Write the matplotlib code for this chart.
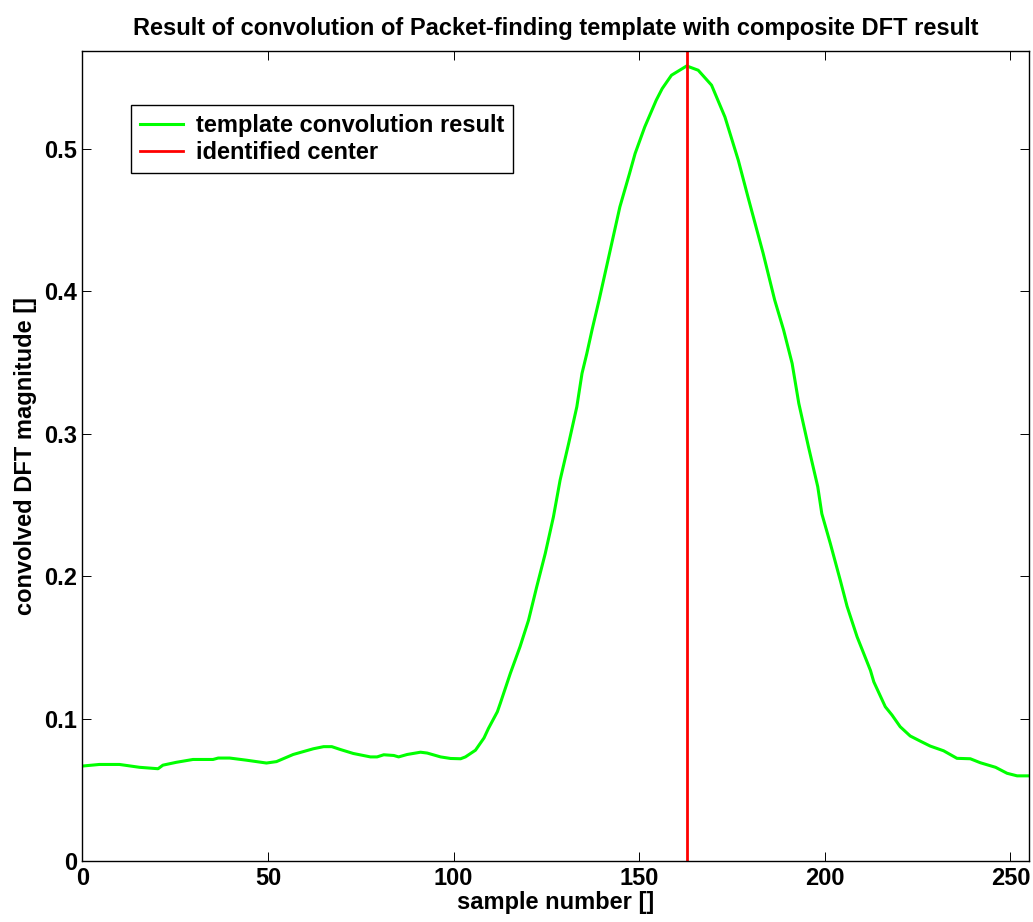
import numpy as np
import matplotlib
matplotlib.use('Agg')
import matplotlib.pyplot as plt

# values
sample_idx = [0.5, 4.6, 10, 15.4, 20.4, 21.7, 25.3, 29.8, 35.2, 36.6, 39.7, 44.2,
              49.6, 52.3, 56.8, 62.2, 65, 67.2, 69.5, 73, 77.6, 79.4, 81.2, 83.9,
              85.2, 87.5, 91.1, 92.9, 96.5, 99.2, 101.9, 103.2, 105.9, 108.2, 109.4,
              111.8, 112.6, 115.3, 117.9, 120.2, 122.4, 124.7, 126.9, 128.7, 131,
              133.2, 134.6, 135.9, 137.3, 139.2, 141.2, 142.8, 144.8, 147.4, 148.9,
              151.5, 154.6, 156.2, 158.7, 162.8, 165.9, 169.5, 173.1, 176.7, 179.3,
              183.4, 186.5, 188.9, 191.2, 193, 195.6, 198.1, 199.2, 201.5, 204.2,
              206, 208.7, 212.3, 213.2, 216.3, 218.1, 220.3, 223, 225.7, 228.4, 232,
              235.6, 239.2, 241.9, 246, 249.1, 251.8, 255]
conv_mag = [0.067, 0.068, 0.068, 0.066, 0.065, 0.0675, 0.0695, 0.0715, 0.0715, 0.0725,
            0.0725, 0.071, 0.069, 0.070, 0.075, 0.079, 0.0805, 0.0805, 0.0785, 0.0757,
            0.0733, 0.0733, 0.0748, 0.0743, 0.0733, 0.075, 0.0766, 0.076, 0.0733,
            0.0722, 0.072, 0.0733, 0.078, 0.0866, 0.0933, 0.105, 0.111, 0.132, 0.1506,
            0.1693, 0.1927, 0.2161, 0.2418, 0.2676, 0.2933, 0.319, 0.3425, 0.3565,
            0.373, 0.394, 0.4173, 0.436, 0.4594, 0.4828, 0.4968, 0.5155, 0.5343,
            0.5424, 0.5518, 0.5583, 0.5553, 0.5448, 0.5225, 0.4921, 0.4664, 0.4267,
            0.394, 0.373, 0.3495, 0.3214, 0.291, 0.263, 0.244, 0.223, 0.197, 0.179,
            0.1576, 0.134, 0.126, 0.1085, 0.1027, 0.0945, 0.088, 0.0844, 0.0809,
            0.0776, 0.0723, 0.072, 0.0692, 0.066, 0.0618, 0.060, 0.060]
center = 163

plt.rcParams['font.family'] = ['Liberation Sans', 'DejaVu Sans']
plt.rcParams['font.weight'] = 'bold'
FS = 17

fig = plt.figure(figsize=(10.33, 9.22), dpi=100)
ax = fig.add_axes([0.0797, 0.0658, 0.9164, 0.8792])

ax.plot(sample_idx, conv_mag, color=(0, 1, 0), lw=2.2, label='template convolution result')
ax.axvline(center, color=(1, 0, 0), lw=2.0, label='identified center')

ax.set_xlim(0, 255)
ax.set_ylim(0, 0.569)
ax.set_xticks([0, 50, 100, 150, 200, 250])
ax.set_yticks([0, 0.1, 0.2, 0.3, 0.4, 0.5])
ax.set_yticklabels(['0', '0.1', '0.2', '0.3', '0.4', '0.5'])
ax.tick_params(direction='in', length=6.5, width=0.7, top=True, right=True,
               labelsize=FS, pad=4)
for sp in ax.spines.values():
    sp.set_linewidth(1.0)

ax.set_title('Result of convolution of Packet-finding template with composite DFT result',
             fontsize=FS, fontweight='bold', pad=11)
ax.set_xlabel('sample number []', fontsize=FS, fontweight='bold', labelpad=1)
ax.set_ylabel('convolved DFT magnitude []', fontsize=FS, fontweight='bold', labelpad=5)

leg = ax.legend(loc='upper left', bbox_to_anchor=(0.051, 0.933), borderaxespad=0,
                fontsize=FS, fancybox=False, framealpha=1, edgecolor='black',
                handlelength=1.8, handletextpad=0.55, borderpad=0.4, labelspacing=0.15)
leg.get_frame().set_linewidth(1.0)

fig.savefig('out.png', dpi=100)
